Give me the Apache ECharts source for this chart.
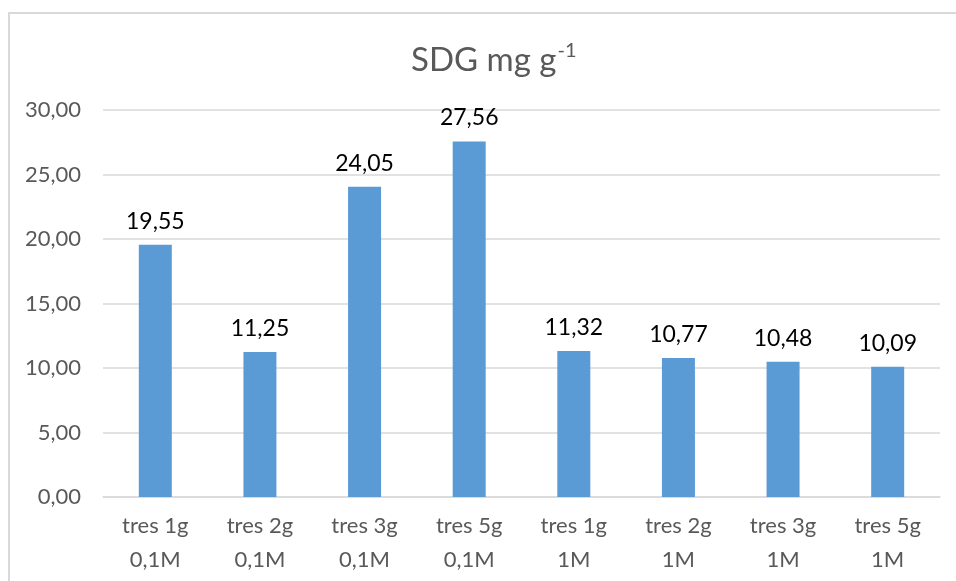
<!DOCTYPE html>
<html>
<head>
<meta charset="utf-8">
<script src="https://cdn.jsdelivr.net/npm/echarts@6/dist/echarts.min.js"></script>
<style>
html,body{margin:0;padding:0;background:#fff;}
#frame{position:absolute;left:8px;top:12px;width:960px;height:600px;border-left:2px solid #d9d9d9;border-top:2px solid #d9d9d9;}
#c{position:absolute;left:0;top:0;width:956px;height:581px;}
</style>
</head>
<body>
<div id="frame"></div>
<div id="c"></div>
<script>
const categories = ['tres 1g\n0,1M','tres 2g\n0,1M','tres 3g\n0,1M','tres 5g\n0,1M','tres 1g\n1M','tres 2g\n1M','tres 3g\n1M','tres 5g\n1M'];
const values = [19.55, 11.25, 24.05, 27.56, 11.32, 10.77, 10.48, 10.09];
const yTicks = { min: 0, max: 30, interval: 5 };

const fmt = v => v.toFixed(2).replace('.', ',');
const chart = echarts.init(document.getElementById('c'));
chart.setOption({
  animation: false,
  title: {
    text: '{a|SDG mg g}{s|-1}',
    left: 406,
    top: 36,
    textStyle: {
      fontWeight: 'normal',
      rich: {
        a: { fontFamily: 'Lato', fontSize: 33, fontWeight: 'normal', color: '#595959', verticalAlign: 'bottom' },
        s: { fontFamily: 'Lato', fontSize: 20, fontWeight: 'normal', color: '#595959', verticalAlign: 'top', padding: [0,0,16,1] }
      }
    }
  },
  grid: { left: 103, right: 16, top: 110, bottom: 84 },
  xAxis: {
    type: 'category',
    data: categories,
    axisLine: { lineStyle: { color: '#d9d9d9', width: 1.5 } },
    axisTick: { show: false },
    axisLabel: { color: '#595959', fontFamily: 'Lato', fontSize: 22, lineHeight: 34, margin: 12, interval: 0 }
  },
  yAxis: {
    type: 'value',
    min: yTicks.min, max: yTicks.max, interval: yTicks.interval,
    axisLine: { show: false },
    axisTick: { show: false },
    splitLine: { lineStyle: { color: '#d9d9d9', width: 1.5 } },
    axisLabel: { color: '#595959', fontFamily: 'Lato', fontSize: 22, margin: 22, formatter: v => fmt(v) }
  },
  series: [{
    type: 'bar',
    data: values,
    barWidth: 33,
    itemStyle: { color: '#5B9BD5' },
    label: { show: true, position: 'top', distance: 12, color: '#000', fontFamily: 'Lato', fontSize: 23, formatter: p => fmt(p.value) }
  }]
});
</script>
</body>
</html>
